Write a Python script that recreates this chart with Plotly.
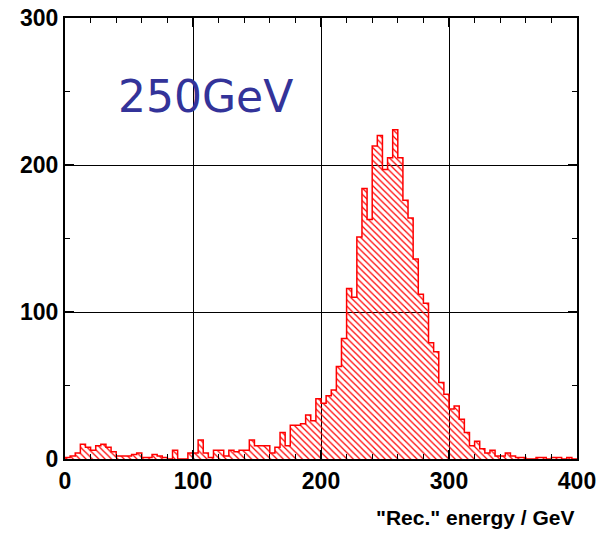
import plotly.graph_objects as go

# Histogram: 100 bins of 4 GeV from 0 to 400
bin_width = 4
bin_start = 0
counts = [
    1, 2, 4, 10, 8, 6, 9, 10, 8, 5,
    2, 2, 2, 3, 4, 1, 1, 3, 2, 1,
    0, 6, 0, 0, 4, 4, 13, 4, 1, 6,
    6, 2, 6, 5, 6, 6, 13, 9, 9, 9,
    4, 8, 18, 9, 23, 23, 24, 30, 26, 41,
    38, 43, 47, 63, 82, 116, 110, 151, 184, 163,
    213, 220, 197, 205, 224, 205, 176, 164, 136, 112,
    106, 79, 73, 52, 44, 34, 36, 27, 18, 9,
    12, 7, 4, 6, 2, 2, 4, 2, 1, 1,
    0, 0, 1, 1, 0, 1, 1, 0, 1, 0,
]
x_ticks = [0, 100, 200, 300, 400]
y_ticks = [0, 100, 200, 300]
label_text = "250GeV"
x_title = '"Rec." energy / GeV'

left_edges = [bin_start + i * bin_width for i in range(len(counts))]
centers = [e + bin_width / 2 for e in left_edges]
x_end = left_edges[-1] + bin_width

fig = go.Figure()
fig.add_trace(go.Bar(
    x=centers, y=counts, width=bin_width,
    marker=dict(
        color="rgba(0,0,0,0)",
        line=dict(width=0),
        pattern=dict(shape="\\", fgcolor="#ff0000", bgcolor="rgba(0,0,0,0)",
                     size=4.5, solidity=0.28, fillmode="replace"),
    ),
    hoverinfo="skip", showlegend=False,
))
step_x = [left_edges[0]] + left_edges + [x_end]
step_y = [0] + counts + [0]
fig.add_trace(go.Scatter(
    x=step_x, y=step_y, mode="lines", line_shape="hv",
    line=dict(color="#ff0000", width=1.5), hoverinfo="skip", showlegend=False,
))

tickfont = dict(family="Liberation Sans", size=23, color="black", weight="bold")
fig.update_layout(
    width=602, height=535,
    margin=dict(l=65, r=25, t=18, b=76),
    paper_bgcolor="white", plot_bgcolor="white",
    bargap=0,
    xaxis=dict(range=[0, 400], tickvals=x_ticks, ticks="inside", ticklen=9,
               tickwidth=1.5, tickcolor="black", automargin=False,
               showgrid=True, gridcolor="black", gridwidth=1,
               showline=True, linecolor="black", linewidth=2, mirror="ticks",
               minor=dict(dtick=20, ticks="inside", ticklen=5, tickcolor="black",
                          tickwidth=1.2, showgrid=False),
               tickfont=tickfont, zeroline=False, fixedrange=True),
    yaxis=dict(range=[0, 300], tickvals=y_ticks, ticks="inside", ticklen=9,
               tickwidth=1.5, tickcolor="black", automargin=False,
               showgrid=True, gridcolor="black", gridwidth=1,
               showline=True, linecolor="black", linewidth=2, mirror="ticks",
               minor=dict(dtick=50, ticks="inside", ticklen=5, tickcolor="black",
                          tickwidth=1.2, showgrid=False),
               tickfont=tickfont, zeroline=False, fixedrange=True),
    annotations=[
        dict(text=label_text, x=0.1, y=0.822, xref="paper", yref="paper",
             xanchor="left", yanchor="middle", showarrow=False,
             font=dict(family="DejaVu Sans", size=44, color="#333399")),
        dict(text=x_title, x=1.0, y=-0.133, xref="paper", yref="paper",
             xanchor="right", yanchor="middle", showarrow=False,
             font=dict(family="Liberation Sans", size=21, color="black", weight="bold")),
    ],
)

fig.write_html("out.html")
